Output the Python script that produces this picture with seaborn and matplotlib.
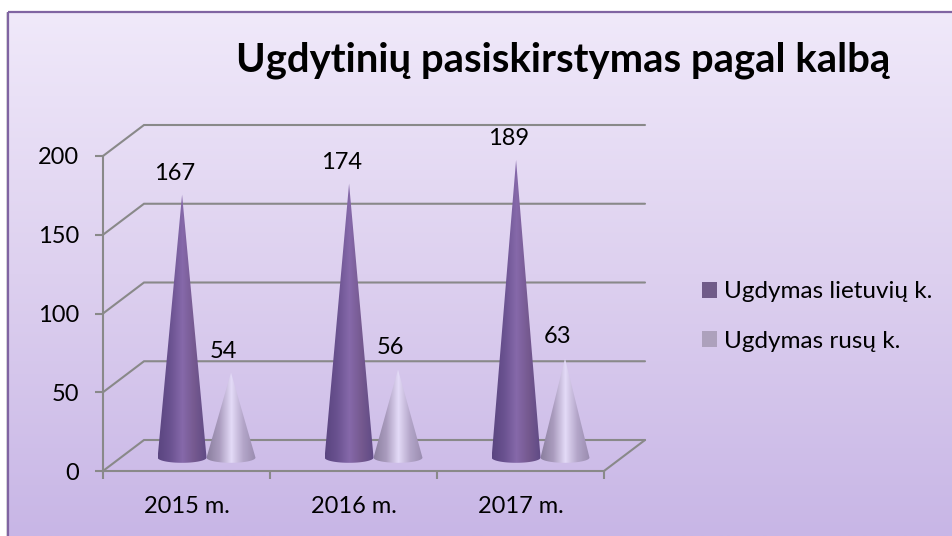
import numpy as np
import pandas as pd
import matplotlib
matplotlib.use("Agg")
import matplotlib.pyplot as plt
import seaborn as sns
from matplotlib.colors import LinearSegmentedColormap
from matplotlib.patches import PathPatch, Rectangle
from matplotlib.path import Path
from matplotlib.transforms import Affine2D

# duomenys
years = ["2015 m.", "2016 m.", "2017 m."]
lietuviu = [167, 174, 189]
rusu = [54, 56, 63]
series_names = ["Ugdymas lietuvių k.", "Ugdymas rusų k."]
y_ticks = [0, 50, 100, 150, 200]
title_text = "Ugdytinių pasiskirstymas pagal kalbą"

W, H = 952, 536
sns.set_theme(style="white")
plt.rcParams["font.family"] = ["Lato", "DejaVu Sans"]

df = pd.DataFrame({
    "year": years * 2,
    "value": lietuviu + rusu,
    "series": [series_names[0]] * 3 + [series_names[1]] * 3,
})

fig = plt.figure(figsize=(W / 100, H / 100), dpi=100, facecolor="white")

# fonas su gradientu
bg = fig.add_axes([0, 0, 1, 1], zorder=0)
bg.set_xlim(0, W)
bg.set_ylim(H, 0)
bg.axis("off")
bg_cmap = LinearSegmentedColormap.from_list("bg", ["#f0e9fa", "#ddd0ef", "#c8b6e6"])
bg.imshow(np.linspace(0, 1, 256).reshape(-1, 1), cmap=bg_cmap, aspect="auto",
          extent=[8, W + 2, H, 12], zorder=1)
bg.set_xlim(0, W)
bg.set_ylim(H, 0)
bg.add_patch(Rectangle((8, 12), W, H, fill=False, edgecolor="#8064a2", linewidth=1.6, zorder=2))
bg.plot([6.5, 6.5], [13, H], color="#d9d9d9", lw=1.2, zorder=1)

# pagrindine asis
ax = fig.add_axes([103 / W, (H - 471) / H, (604 - 103) / W, (471 - 156) / H], zorder=1)
ax.patch.set_alpha(0)
palette = ["#70548f", "#ac9cc0"]
sns.barplot(data=df, x="year", y="value", hue="series", palette=palette,
            width=0.586, ax=ax, zorder=3)
ax.set_xlim(-0.5, 2.5)
ax.set_ylim(0, 200)
ax.set_xlabel("")
ax.set_ylabel("")

grid_col = "#898989"
grid_lw = 1.5
depth_x = 41 / 167      # gylis x vienetais
depth_y = 31 / 1.575    # gylis reiksmes vienetais
x0, x1 = ax.get_xlim()

# sienos ir grindys
for v in y_ticks:
    ax.plot([x0, x0 + depth_x, x1 + depth_x], [v, v + depth_y, v + depth_y],
            color=grid_col, lw=grid_lw, clip_on=False, zorder=1, solid_joinstyle="miter")
ax.plot([x1, x1 + depth_x], [0, depth_y], color=grid_col, lw=grid_lw, clip_on=False, zorder=1)

for side in ["top", "right"]:
    ax.spines[side].set_visible(False)
for side in ["left", "bottom"]:
    ax.spines[side].set_color(grid_col)
    ax.spines[side].set_linewidth(grid_lw)

ax.set_yticks(y_ticks)
ax.set_xticks(np.arange(-0.5, 3), minor=True)
ax.tick_params(axis="x", which="major", length=0, labelsize=17, pad=18, colors="black")
ax.tick_params(axis="x", which="minor", bottom=True, length=6, width=grid_lw, color=grid_col)
ax.tick_params(axis="y", left=True, length=6, width=grid_lw, color=grid_col,
               labelsize=17, pad=11, labelcolor="black")

# kugiai pagal stulpeliu geometrija
cone_shift = Affine2D().translate(0.12, 8.5) + ax.transData
cmaps = [
    LinearSegmentedColormap.from_list("d", ["#5a4580", "#6a5290", "#8669aa", "#75598f", "#5f4a85"]),
    LinearSegmentedColormap.from_list("l", ["#8b7f9f", "#aa9cbe", "#e4dbf8", "#b3a5c8", "#998caf"]),
]
ell = 3.3  # pagrindo elipse
t = np.linspace(np.pi, 2 * np.pi, 40)
for container, cmap in zip(ax.containers, cmaps):
    for bar in container:
        h = bar.get_height()
        w = bar.get_width()
        cx = bar.get_x() + w / 2
        bar.set_visible(False)
        xs = np.concatenate([[cx], cx + w / 2 * np.cos(t), [cx]])
        ys = np.concatenate([[h], ell * np.sin(t), [h]])
        clip = PathPatch(Path(np.column_stack([xs, ys])), transform=cone_shift,
                         facecolor="none", edgecolor="none")
        ax.add_patch(clip)
        im = ax.imshow(np.linspace(0, 1, 128).reshape(1, -1), cmap=cmap, aspect="auto",
                       extent=[cx - w / 2, cx + w / 2, -ell, h], zorder=4, clip_on=True)
        im.set_transform(cone_shift)
        im.set_clip_path(clip)
        ax.annotate(f"{h:.0f}", xy=(cx, h), xycoords=cone_shift, xytext=(-5.5, 15.5),
                    textcoords="offset points", ha="center", va="center",
                    fontsize=17, color="black", zorder=5, annotation_clip=False)
ax.set_xlim(x0, x1)
ax.set_ylim(0, 200)

sns.move_legend(ax, "upper left", bbox_to_anchor=(695 / W, 1 - 274 / H),
                bbox_transform=fig.transFigure, title=None, frameon=False,
                fontsize=17.5, handlelength=0.62, handleheight=0.62,
                handletextpad=0.28, labelspacing=1.17, borderpad=0.3, borderaxespad=0,
                labelcolor="black")
for handle in ax.get_legend().legend_handles:
    handle.set_edgecolor("none")

fig.text(563 / W, 1 - 60 / H, title_text, ha="center", va="center",
         fontsize=28.8, fontweight="bold", color="black")

fig.savefig("out.png", dpi=100)
